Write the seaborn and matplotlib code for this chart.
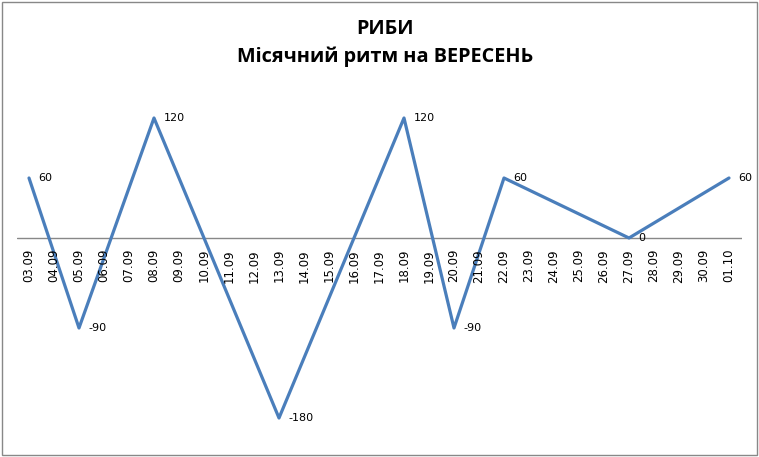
import matplotlib.pyplot as plt
import seaborn as sns
import numpy as np
import pandas as pd
from matplotlib.patches import Rectangle

# Data
dates = ['03.09', '04.09', '05.09', '06.09', '07.09', '08.09', '09.09', '10.09',
         '11.09', '12.09', '13.09', '14.09', '15.09', '16.09', '17.09', '18.09',
         '19.09', '20.09', '21.09', '22.09', '23.09', '24.09', '25.09', '26.09',
         '27.09', '28.09', '29.09', '30.09', '01.10']
values = [60, None, -90, None, None, 120, None, None,
          None, None, -180, None, None, None, None, 120,
          None, -90, None, 60, None, None, None, None,
          0, None, None, None, 60]

df = pd.DataFrame({'date': dates, 'value': values})
df['pos'] = np.arange(len(df))
pts = df.dropna()

sns.set_style('white')
plt.rcParams['font.family'] = ['DejaVu Sans']
plt.rcParams['text.color'] = 'black'

fig = plt.figure(figsize=(7.59, 4.57), dpi=100)
ax = fig.add_axes([16.5 / 759, 1 - 428 / 457, 725 / 759, 330 / 457])

sns.lineplot(data=pts, x='pos', y='value', ax=ax, color='#4A7EBB', linewidth=2.3)

# data labels to the right of each point
for _, r in pts.iterrows():
    ax.annotate(f"{int(r['value'])}", (r['pos'], r['value']), xytext=(7, 0),
                textcoords='offset points', ha='left', va='center',
                fontsize=8, color='black')

ax.set_xlim(-0.5, len(dates) - 0.5)
ax.set_ylim(-190, 140)
for s in ax.spines.values():
    s.set_visible(False)
ax.axhline(0, color='#888888', linewidth=1, zorder=0)
ax.set_yticks([])
ax.set_xticks([])
ax.set_xlabel('')
ax.set_ylabel('')

# category labels just below the zero line
for i, d in enumerate(dates):
    ax.text(i, -11, d, rotation=90, ha='center', va='top',
            fontsize=8.5, color='black')

fig.text(0.507, 1 - 43 / 457, 'РИБИ\nМісячний ритм на ВЕРЕСЕНЬ', ha='center', va='center',
         fontsize=14.3, fontweight='bold', family=['Open Sans', 'DejaVu Sans'],
         linespacing=1.45, color='black')

fig.patches.append(Rectangle((2 / 759, 2 / 457), 755 / 759, 453 / 457, transform=fig.transFigure,
                             fill=False, edgecolor='#888888', linewidth=1))

fig.savefig('out.png', dpi=100)
